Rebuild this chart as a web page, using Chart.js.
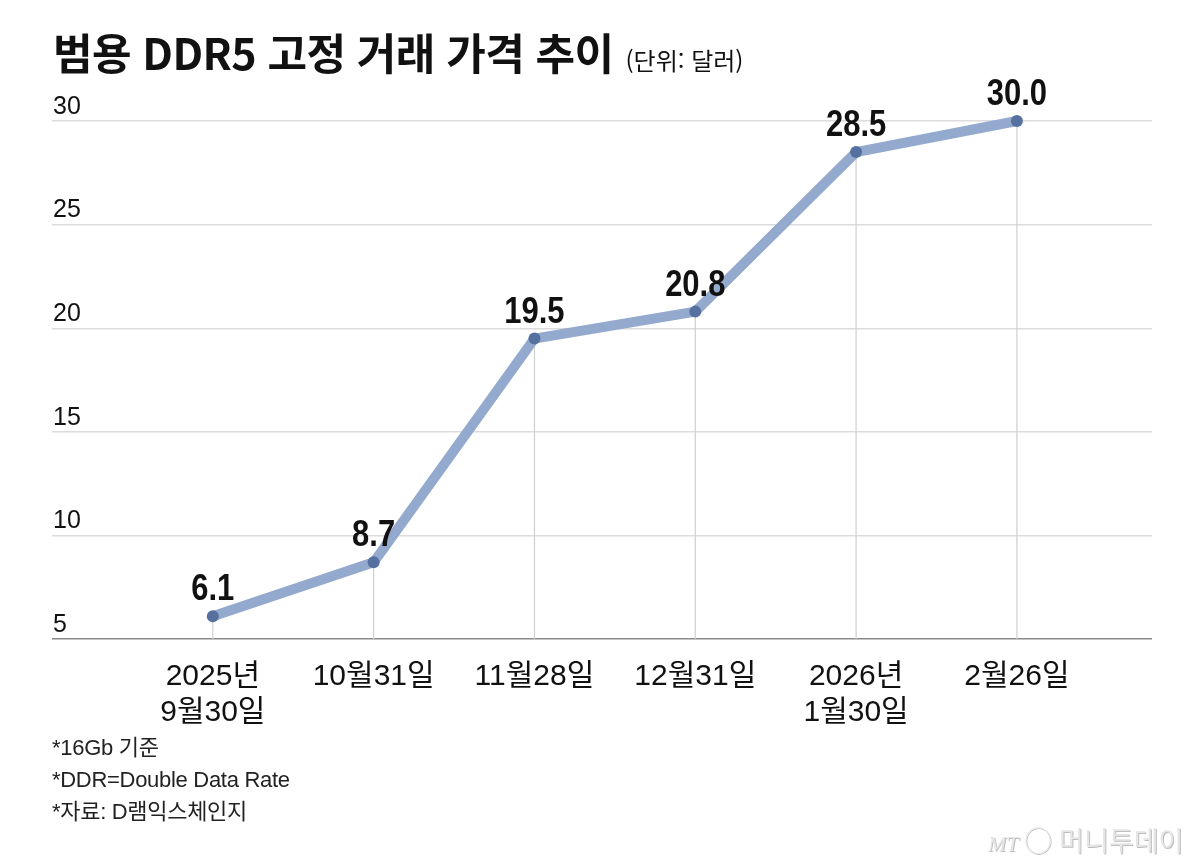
<!DOCTYPE html>
<html lang="ko">
<head>
<meta charset="utf-8">
<title>범용 DDR5 고정 거래 가격 추이</title>
<script src="https://cdn.jsdelivr.net/npm/chart.js@4.4.1/dist/chart.umd.min.js"></script>
<style>
  html, body { margin: 0; padding: 0; background: #fff; }
  #wrap { position: relative; width: 1203px; height: 862px; overflow: hidden; }
  #chart { position: absolute; left: 0; top: 0; }
  .title { position: absolute; left: 53px; top: 20px; white-space: nowrap;
           font-family: 'Noto Sans CJK KR', sans-serif; color: #111; }
  .title b { font-size: 43px; font-weight: 700; letter-spacing: -0.6px; }
  .title span { font-size: 24px; margin-left: 12px; }
  .notes { position: absolute; left: 52px; top: 732px; color: #222;
           font-family: 'Liberation Sans', 'Noto Sans CJK KR', sans-serif;
           font-size: 22px; line-height: 32px; letter-spacing: -0.3px; }
  .mark { position: absolute; left: 988px; top: 820px; color: #e6e6e6;
          font-family: 'Noto Sans CJK KR', sans-serif; font-size: 27px;
          text-shadow: 1px 1px 0 #bdbdbd; white-space: nowrap; }
  .mark i { font-family: 'Liberation Serif', serif; font-size: 22px; margin-right: 6px; }
</style>
</head>
<body>
<div id="wrap">
  <canvas id="chart" width="1203" height="862"></canvas>
  <div class="title"><b>범용 DDR5 고정 거래 가격 추이</b><span>(단위: 달러)</span></div>
  <div class="notes">
    <div>*16Gb 기준</div>
    <div>*DDR=Double Data Rate</div>
    <div>*자료: D램익스체인지</div>
  </div>
  <div class="mark"><i>MT</i>◯ 머니투데이</div>
</div>
<script>
// 날짜 라벨 (여러 줄)
const dateLabels = [
  ['2025년', '9월30일'],
  ['10월31일'],
  ['11월28일'],
  ['12월31일'],
  ['2026년', '1월30일'],
  ['2월26일']
];
// 가격 (달러)
const prices = [6.1, 8.7, 19.5, 20.8, 28.5, 30.0];
const yTicks = [5, 10, 15, 20, 25, 30];

const FONT = "'Liberation Sans', 'Noto Sans CJK KR', sans-serif";

// 점에서 바닥선까지 세로선
const dropLines = {
  id: 'dropLines',
  beforeDatasetsDraw(chart) {
    const ctx = chart.ctx;
    const bottom = chart.chartArea.bottom;
    ctx.save();
    ctx.strokeStyle = '#cfcfcf';
    ctx.lineWidth = 1.2;
    chart.getDatasetMeta(0).data.forEach(pt => {
      ctx.beginPath();
      ctx.moveTo(pt.x, pt.y);
      ctx.lineTo(pt.x, bottom);
      ctx.stroke();
    });
    ctx.restore();
  }
};

// 점 위의 값 표시 (가로로 약간 좁게)
const valueLabels = {
  id: 'valueLabels',
  afterDatasetsDraw(chart) {
    const ctx = chart.ctx;
    chart.getDatasetMeta(0).data.forEach((pt, i) => {
      ctx.save();
      ctx.font = `bold 36px ${FONT}`;
      ctx.fillStyle = '#111';
      ctx.textAlign = 'center';
      ctx.textBaseline = 'alphabetic';
      ctx.translate(pt.x, pt.y - 16);
      ctx.scale(0.86, 1);
      ctx.fillText(prices[i].toFixed(1), 0, 0);
      ctx.restore();
    });
  }
};

new Chart(document.getElementById('chart'), {
  type: 'line',
  data: {
    datasets: [{
      data: prices.map((v, i) => ({ x: i, y: v })),
      borderColor: '#93a9cd',
      borderWidth: 10,
      borderCapStyle: 'round',
      borderJoinStyle: 'round',
      tension: 0,
      pointRadius: 6,
      pointBackgroundColor: '#56719f',
      pointBorderWidth: 0,
      clip: false
    }]
  },
  options: {
    responsive: false,
    animation: false,
    events: [],
    layout: { padding: { left: 52, right: 51, top: 121, bottom: 123 } },
    plugins: { legend: { display: false }, tooltip: { enabled: false } },
    scales: {
      x: {
        type: 'linear',
        min: -1,
        max: 5.84,
        afterBuildTicks: scale => { scale.ticks = dateLabels.map((_, i) => ({ value: i })); },
        afterFit: scale => { scale.height = 100; },
        grid: { display: false, drawTicks: false },
        border: { display: false },
        ticks: {
          padding: 20,
          maxRotation: 0,
          autoSkip: false,
          color: '#111',
          font: { family: FONT, size: 30, lineHeight: 1.2 },
          callback: v => dateLabels[v]
        }
      },
      y: {
        min: 5,
        max: 30,
        afterBuildTicks: scale => { scale.ticks = yTicks.map(v => ({ value: v })); },
        afterFit: scale => { scale.width = 0; },
        grid: {
          drawTicks: false,
          color: c => c.tick && c.tick.value === 5 ? '#8a8a8a' : '#dcdcdc',
          lineWidth: c => c.tick && c.tick.value === 5 ? 1.6 : 1.4
        },
        border: { display: false },
        ticks: {
          mirror: true,
          padding: 1,
          labelOffset: -14,
          color: '#111',
          font: { family: FONT, size: 25 }
        }
      }
    }
  },
  plugins: [dropLines, valueLabels]
});
</script>
</body>
</html>
